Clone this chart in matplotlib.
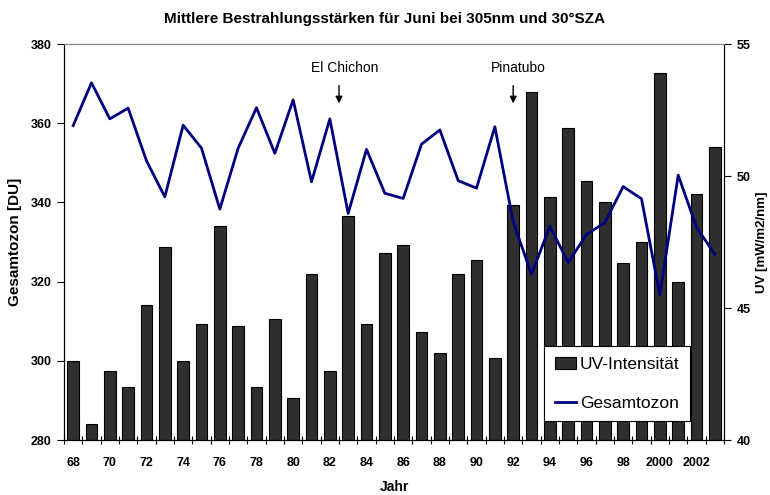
import numpy as np
import matplotlib
matplotlib.use("Agg")
import matplotlib.pyplot as plt

plt.rcParams['font.family'] = ['Liberation Sans', 'DejaVu Sans']

years = list(range(1968, 2004))
uv = [43.0, 40.6, 42.6, 42.0, 45.1, 47.3, 43.0, 44.4, 48.1, 44.3,
      42.0, 44.6, 41.6, 46.3, 42.6, 48.5, 44.4, 47.1, 47.4, 44.1,
      43.3, 46.3, 46.8, 43.1, 48.9, 53.2, 49.2, 51.8, 49.8, 49.0,
      46.7, 47.5, 53.9, 46.0, 49.3, 51.1]
ozone = [359.4, 370.2, 361.1, 363.8, 350.5, 341.4, 359.5, 353.7, 338.3, 353.7,
         363.9, 352.4, 365.9, 345.2, 361.1, 337.2, 353.4, 342.3, 341.0, 354.7,
         358.3, 345.5, 343.6, 359.1, 335.1, 321.8, 334.0, 324.8, 331.9, 334.9,
         344.0, 340.9, 316.6, 346.9, 333.7, 326.9]
tick_labels = [str(y)[2:] if y < 2000 else str(y) for y in years]
events = [("El Chichon", 1982.5), ("Pinatubo", 1992)]

x = np.arange(len(years))

fig = plt.figure(figsize=(7.7, 4.95), dpi=100)
ax = fig.add_axes([0.0831, 0.1111, 0.8572, 0.8000])
ax2 = ax.twinx()

# bars on the right axis, line on the left axis drawn above
bars = ax2.bar(x, uv, width=0.64, color='#2f2f2f', edgecolor='black', linewidth=0.8,
               label='UV-Intensität')
line, = ax.plot(x, ozone, color='#000080', linewidth=2, label='Gesamtozon')
ax.set_zorder(ax2.get_zorder() + 1)
ax.patch.set_visible(False)

ax.set_xlim(-0.5, len(years) - 0.5)
ax.set_ylim(280, 380)
ax.set_yticks(np.arange(280, 381, 20))
ax2.set_ylim(40, 55)
ax2.set_yticks([40, 45, 50, 55])

ax.set_xticks(x[::2])
ax.set_xticklabels(tick_labels[::2])
ax.set_xticks(np.arange(-0.5, len(years)), minor=True)
ax.tick_params(axis='x', which='major', length=0, pad=12)
ax.tick_params(axis='x', which='minor', length=6, direction='inout', width=0.8)
ax.tick_params(axis='y', length=5, width=0.8, pad=4)
ax2.tick_params(axis='y', length=5, width=0.8, pad=4)

for a in (ax, ax2):
    for lab in a.get_xticklabels() + a.get_yticklabels():
        lab.set_fontsize(9)
        lab.set_fontweight('bold')
    a.spines['top'].set_color('#888888')

ax.set_xlabel('Jahr', fontsize=10, fontweight='bold', labelpad=8)
ax.set_ylabel('Gesamtozon [DU]', fontsize=11, fontweight='bold', labelpad=6)
ax2.set_ylabel('UV [mW/m2/nm]', fontsize=9.5, fontweight='bold', labelpad=4)
fig.text(0.5, 0.962, 'Mittlere Bestrahlungsstärken für Juni bei 305nm und 30°SZA',
         fontsize=11, fontweight='bold', ha='center', va='center')

for name, yr in events:
    xi = yr - years[0]
    ax.text(xi + 0.3, 374, name, fontsize=10, ha='center', va='center')
    ax.annotate('', xy=(xi, 364.3), xytext=(xi, 370.2),
                arrowprops=dict(arrowstyle='-|>', color='black', lw=1, mutation_scale=10))

leg = ax.legend([bars, line], ['UV-Intensität', 'Gesamtozon'],
                loc='lower right', bbox_to_anchor=(0.9485, 0.048),
                fontsize=12.5, frameon=True, fancybox=False, edgecolor='black',
                framealpha=1, labelspacing=1.35, handlelength=1.2, handletextpad=0.25,
                borderpad=0.6, borderaxespad=0)
leg.get_frame().set_linewidth(0.8)

fig.savefig('out.png', dpi=100)
